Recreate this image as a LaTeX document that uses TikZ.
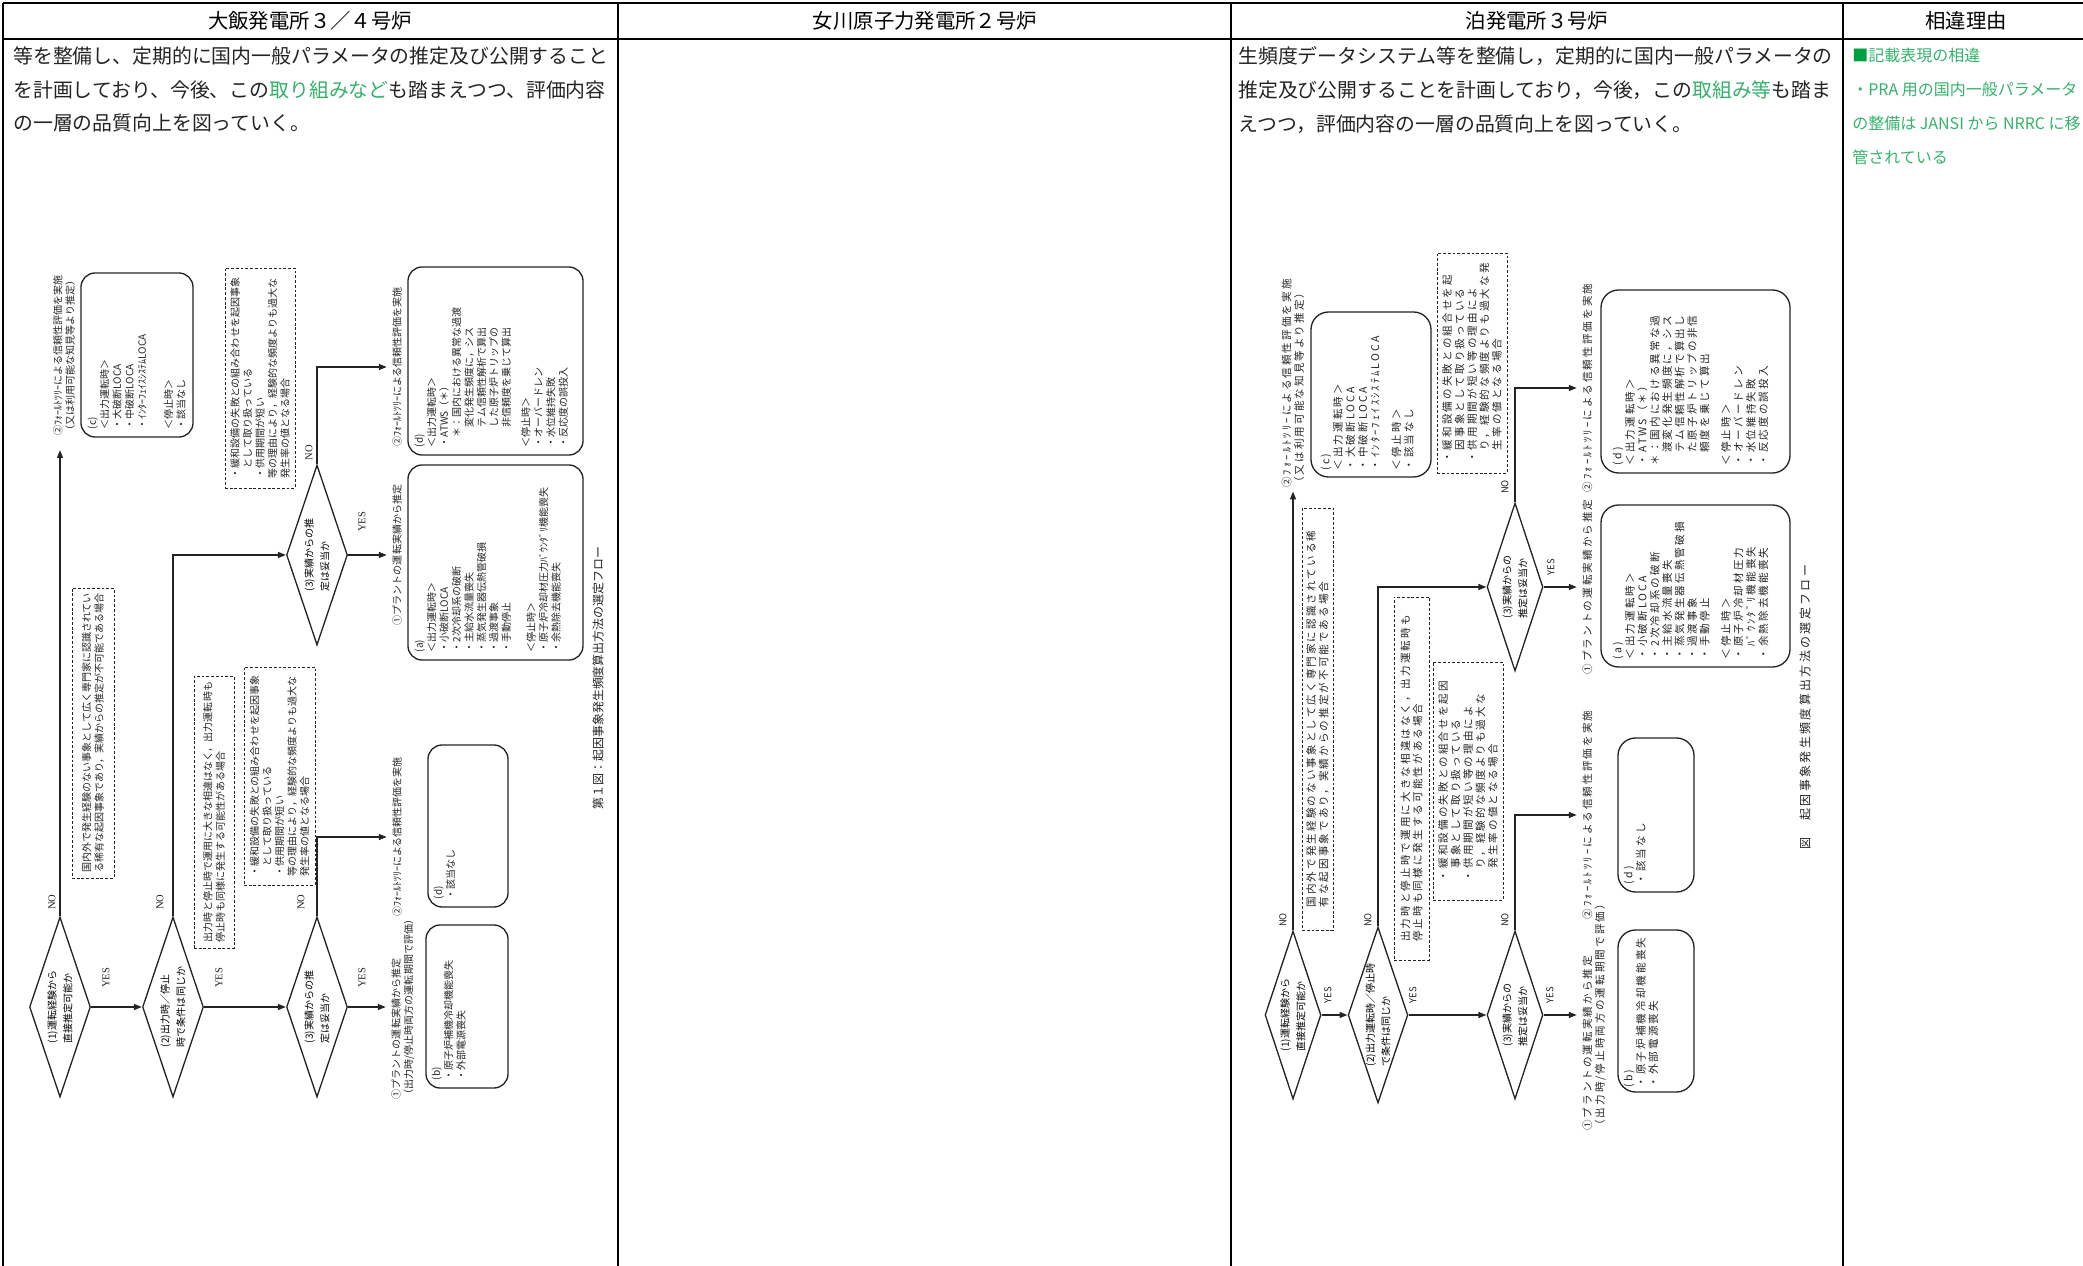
\documentclass[tikz,border=0pt]{standalone}
\usepackage{fontspec}
\usepackage{graphicx}
\setmainfont{Noto Sans CJK JP}
\newfontfamily\rjp[LetterSpace=20]{Noto Sans CJK JP}
\newfontfamily\yesfont{Liberation Serif}
\usetikzlibrary{arrows.meta,shapes.geometric,fit}
\definecolor{diffgreen}{RGB}{52,178,108}
\definecolor{markgreen}{RGB}{0,160,64}
\definecolor{ink}{RGB}{35,35,35}
\newcommand\vstack[1]{\rotatebox{90}{\shortstack[l]{#1}}}
\tikzset{
  tabline/.style={line width=1.2pt,black},
  headtext/.style={inner sep=0pt,font=\fontsize{11.6}{14}\selectfont},
  bodytext/.style={anchor=north west,align=left,inner sep=0pt,text=ink,font=\fontsize{11.3}{19.3}\selectfont},
  notetext/.style={anchor=north west,align=left,inner sep=0pt,text=diffgreen,font=\fontsize{9.1}{19.3}\selectfont},
  fline/.style={line width=0.75pt,draw=ink},
  flow/.style={fline,-{Triangle[length=4.5pt,width=3.4pt]}},
  dec/.style={diamond,fline,shape aspect=0.34,inner sep=0pt},
  rbox/.style={fline,rounded corners=8pt,inner sep=0pt},
  dbox/.style={draw=ink,line width=0.5pt,dash pattern=on 1.6pt off 1.1pt,inner sep=0pt},
  vtext/.style={rotate=90,align=left,inner sep=0pt,text=ink},
  lsz/.style={font=\fontsize{5.7}{7.1}\selectfont},
  rsz/.style={font=\rjp\fontsize{6}{7.1}\selectfont},
  yn/.style={rotate=90,inner sep=0pt,text=ink,font=\yesfont\fontsize{6}{7}\selectfont},
  ynr/.style={rotate=90,inner sep=0pt,text=ink,font=\fontsize{5.4}{7}\selectfont}
}
\begin{document}
\begin{tikzpicture}[x=0.02cm,y=-0.02cm]
\useasboundingbox (0,0) rectangle (2083,1266);
\clip (0,0) rectangle (2083,1266);
\draw[tabline] (3,3) -- (2083,3);
\draw[tabline] (3,39) -- (2083,39);
\foreach \cx in {3,618,1231,1843} \draw[tabline] (\cx,3) -- (\cx,1266);
\node[headtext] (hOhi) at (310,21) {大飯発電所３／４号炉};
\node[headtext] (hOna) at (925,21) {女川原子力発電所２号炉};
\node[headtext] (hTom) at (1537,21) {泊発電所３号炉};
\node[headtext] (hDiff) at (1966,21) {相違理由};
\node[bodytext] (txtOhi) at (13,46) {等を整備し、定期的に国内一般パラメータの推定及び公開すること\\を計画しており、今後、この{\color{diffgreen}取り組みなど}も踏まえつつ、評価内容\\の一層の品質向上を図っていく。};
\node[bodytext] (txtTom) at (1238,46) {生頻度データシステム等を整備し，定期的に国内一般パラメータの\\推定及び公開することを計画しており，今後，この{\color{diffgreen}取組み等}も踏ま\\えつつ，評価内容の一層の品質向上を図っていく。};
\node[notetext] (txtDiff) at (1852,48) {{\color{markgreen}■}記載表現の相違\\・PRA 用の国内一般パラメータ\\の整備は JANSI から NRRC に移\\管されている};

\node[dec,lsz,minimum width=1.22cm,minimum height=3.6cm] (oD1) at (60,1007) {\vstack{(1)運転経験から\\直接推定可能か}};
\node[dec,lsz,minimum width=1.22cm,minimum height=3.6cm] (oD2) at (173,1007) {\vstack{(2)出力時／停止\\時で条件は同じか}};
\node[dec,lsz,minimum width=1.22cm,minimum height=3.6cm] (oD3) at (317,1007) {\vstack{(3)実績からの推\\定は妥当か}};
\node[dec,lsz,minimum width=1.22cm,minimum height=3.6cm] (oD3u) at (317,555) {\vstack{(3)実績からの推\\定は妥当か}};
\node[vtext,lsz,anchor=west] (oLabTop) at (64,436) {②ﾌｫｰﾙﾄﾂﾘｰによる信頼性評価を実施\\（又は利用可能な知見等より推定）};
\node[vtext,lsz,anchor=north] (oLab1) at (391,1007) {①プラントの運転実績から推定\\（出力時/停止時両方の運転期間で評価）};
\node[vtext,lsz,anchor=north] (oLab2) at (392,837) {②ﾌｫｰﾙﾄﾂﾘｰによる信頼性評価を実施};
\node[vtext,lsz,anchor=north] (oLab1u) at (392,555) {①プラントの運転実績から推定};
\node[vtext,lsz,anchor=north] (oLab2u) at (392,367) {②ﾌｫｰﾙﾄﾂﾘｰによる信頼性評価を実施};
\node[vtext,font=\fontsize{6.8}{8}\selectfont] (oCap) at (598,678) {第１図：起因事象発生頻度算出方法の選定フロー};

\node[rbox,fit={(81,273) (193,437)}] (oBoxC) {};
\node[rbox,fit={(408,267) (583,455)}] (oBoxD) {};
\node[rbox,fit={(408,465) (583,660)}] (oBoxA) {};
\node[rbox,fit={(428,745) (508,907)}] (oBoxDl) {};
\node[rbox,fit={(426,925) (508,1088)}] (oBoxB) {};
\node[vtext,lsz,anchor=north west] (oTxtC) at ([shift={(7,-8)}]oBoxC.south west) {(c)\\＜出力運転時＞\\・大破断LOCA\\・中破断LOCA\\・ｲﾝﾀｰﾌｪｲｽｼｽﾃﾑLOCA\\[8pt]＜停止時＞\\・該当なし};
\node[vtext,lsz,anchor=north west] (oTxtD) at ([shift={(7,-8)}]oBoxD.south west) {(d)\\＜出力運転時＞\\・ATWS（＊）\\　＊：国内における異常な過渡\\　　変化発生頻度に，シス\\　　テム信頼性解析で算出\\　　した原子炉トリップの\\　　非信頼度を乗じて算出\\[4pt]＜停止時＞\\・オーバードレン\\・水位維持失敗\\・反応度の誤投入};
\node[vtext,lsz,anchor=north west] (oTxtA) at ([shift={(7,-8)}]oBoxA.south west) {(a)\\＜出力運転時＞\\・小破断LOCA\\・2次冷却系の破断\\・主給水流量喪失\\・蒸気発生器伝熱管破損\\・過渡事象\\・手動停止\\[7pt]＜停止時＞\\・原子炉冷却材圧力ﾊﾞｳﾝﾀﾞﾘ機能喪失\\・余熱除去機能喪失};
\node[vtext,lsz,anchor=north west] (oTxtDl) at ([shift={(6,-8)}]oBoxDl.south west) {(d)\\・該当なし};
\node[vtext,lsz,anchor=north west] (oTxtB) at ([shift={(6,-8)}]oBoxB.south west) {(b)\\・原子炉補機冷却機能喪失\\・外部電源喪失};

\node[dbox,fit={(72,588) (114,878)}] (oNoteA) {};
\node[dbox,fit={(194,676) (234,948)}] (oNoteB) {};
\node[dbox,fit={(244,667) (315,885)}] (oNoteC) {};
\node[dbox,fit={(225,268) (295,488)}] (oNoteD) {};
\node[vtext,lsz] (oNoteAtxt) at (oNoteA.center) {国内外で発生経験のない事象として広く専門家に認識されてい\\る稀有な起因事象であり，実績からの推定が不可能である場合};
\node[vtext,lsz] (oNoteBtxt) at (oNoteB.center) {出力時と停止時で運用に大きな相違はなく，出力運転時も\\停止時も同様に発生する可能性がある場合};
\node[vtext,lsz] (oNoteCtxt) at (oNoteC.center) {・緩和設備の失敗との組み合わせを起因事象\\　として取り扱っている\\・供用期間が短い\\等の理由により，経験的な頻度よりも過大な\\発生率の値となる場合};
\node[vtext,lsz] (oNoteDtxt) at (oNoteD.center) {・緩和設備の失敗との組み合わせを起因事象\\　として取り扱っている\\・供用期間が短い\\等の理由により，経験的な頻度よりも過大な\\発生率の値となる場合};

\node[yn] (oYes1) at (106,978) {YES};
\node[yn] (oYes2) at (219,978) {YES};
\node[yn] (oYes3) at (362,978) {YES};
\node[yn] (oYes4) at (362,522) {YES};
\node[yn] (oNo1) at (52,902) {NO};
\node[yn] (oNo2) at (160,902) {NO};
\node[yn] (oNo3) at (301,902) {NO};
\node[yn] (oNo4) at (309,453) {NO};

\draw[flow,shorten >=8pt] (oD1.north) -- (oD1.north |- oLabTop.west);
\draw[flow] (oD1.east) -- (oD2.west);
\draw[flow] (oD2.east) -- (oD3.west);
\draw[flow] (oD2.north) |- (oD3u.west);
\draw[flow,shorten >=3pt] (oD3.east) -- (oLab1.north);
\draw[flow,shorten >=3pt] (oD3.north) |- (oLab2.north);
\draw[flow,shorten >=3pt] (oD3u.east) -- (oLab1u.north);
\draw[flow,shorten >=3pt] (oD3u.north) |- (oLab2u.north);

\node[dec,lsz,minimum width=1.12cm,minimum height=3.36cm] (tD1) at (1293,1015) {\vstack{(1)運転経験から\\直接推定可能か}};
\node[dec,lsz,minimum width=1.12cm,minimum height=3.36cm] (tD2) at (1378,1015) {\vstack{(2)出力運転時／停止時\\で条件は同じか}};
\node[dec,lsz,minimum width=1.12cm,minimum height=3.36cm] (tD3) at (1515,1015) {\vstack{(3)実績からの\\推定は妥当か}};
\node[dec,lsz,minimum width=1.12cm,minimum height=3.36cm] (tD3u) at (1515,587) {\vstack{(3)実績からの\\推定は妥当か}};
\node[vtext,rsz,anchor=west] (tLabTop) at (1293,488) {②ﾌｫｰﾙﾄﾂﾘｰによる信頼性評価を実施\\（又は利用可能な知見等より推定）};
\node[vtext,rsz,anchor=north] (tLab1) at (1582,1015) {①プラントの運転実績から推定\\（出力時/停止時両方の運転期間で評価）};
\node[vtext,rsz,anchor=north] (tLab2) at (1582,815) {②ﾌｫｰﾙﾄﾂﾘｰによる信頼性評価を実施};
\node[vtext,rsz,anchor=north] (tLab1u) at (1582,587) {①プラントの運転実績から推定};
\node[vtext,rsz,anchor=north] (tLab2u) at (1582,388) {②ﾌｫｰﾙﾄﾂﾘｰによる信頼性評価を実施};
\node[vtext,font=\rjp\fontsize{6.8}{8}\selectfont] (tCap) at (1805,707) {図　起因事象発生頻度算出方法の選定フロー};

\node[rbox,rounded corners=10pt,fit={(1311,312) (1431,477)}] (tBoxC) {};
\node[rbox,rounded corners=10pt,fit={(1601,290) (1790,473)}] (tBoxD) {};
\node[rbox,rounded corners=10pt,fit={(1601,505) (1790,667)}] (tBoxA) {};
\node[rbox,rounded corners=10pt,fit={(1618,738) (1694,892)}] (tBoxDl) {};
\node[rbox,rounded corners=10pt,fit={(1618,930) (1694,1092)}] (tBoxB) {};
\node[vtext,rsz,anchor=north west] (tTxtC) at ([shift={(10,-7)}]tBoxC.south west) {(c)\\＜出力運転時＞\\・大破断LOCA\\・中破断LOCA\\・ｲﾝﾀｰﾌｪｲｽｼｽﾃﾑLOCA\\[5pt]＜停止時＞\\・該当なし};
\node[vtext,rsz,anchor=north west] (tTxtD) at ([shift={(12,-8)}]tBoxD.south west) {(d)\\＜出力運転時＞\\・ATWS（＊）\\＊：国内における異常な過\\　渡変化発生頻度に，シス\\　テム信頼性解析で算出し\\　た原子炉トリップの非信\\　頼度を乗じて算出\\[5pt]＜停止時＞\\・オーバードレン\\・水位維持失敗\\・反応度の誤投入};
\node[vtext,rsz,anchor=north west] (tTxtA) at ([shift={(12,-8)}]tBoxA.south west) {(a)\\＜出力運転時＞\\・小破断LOCA\\・2次冷却系の破断\\・主給水流量喪失\\・蒸気発生器伝熱管破損\\・過渡事象\\・手動停止\\[5pt]＜停止時＞\\・原子炉冷却材圧力\\　ﾊﾞｳﾝﾀﾞﾘ機能喪失\\・余熱除去機能喪失};
\node[vtext,rsz,anchor=north west] (tTxtDl) at ([shift={(6,-8)}]tBoxDl.south west) {(d)\\・該当なし};
\node[vtext,rsz,anchor=north west] (tTxtB) at ([shift={(6,-5)}]tBoxB.south west) {(b)\\・原子炉補機冷却機能喪失\\・外部電源喪失};

\node[dbox,fit={(1302,508) (1333,930)}] (tNoteA) {};
\node[dbox,fit={(1394,597) (1429,960)}] (tNoteB) {};
\node[dbox,fit={(1433,662) (1503,900)}] (tNoteC) {};
\node[dbox,fit={(1437,253) (1507,473)}] (tNoteD) {};
\node[vtext,rsz] (tNoteAtxt) at (tNoteA.center) {国内外で発生経験のない事象として広く専門家に認識されている稀\\有な起因事象であり，実績からの推定が不可能である場合};
\node[vtext,rsz] (tNoteBtxt) at (tNoteB.center) {出力時と停止時で運用に大きな相違はなく，出力運転時も\\停止時も同様に発生する可能性がある場合};
\node[vtext,rsz] (tNoteCtxt) at (tNoteC.center) {・緩和設備の失敗との組合せを起因\\　事象として取り扱っている\\・供用期間が短い等の理由によ\\　り，経験的な頻度よりも過大な\\　発生率の値となる場合};
\node[vtext,rsz] (tNoteDtxt) at (tNoteD.center) {・緩和設備の失敗との組合せを起\\　因事象として取り扱っている\\・供用期間が短い等の理由によ\\　り，経験的な頻度よりも過大な発\\　生率の値となる場合};

\node[ynr] (tYes1) at (1328,995) {YES};
\node[ynr] (tYes2) at (1413,995) {YES};
\node[ynr] (tYes3) at (1550,995) {YES};
\node[ynr] (tYes4) at (1551,567) {YES};
\node[ynr] (tNo1) at (1283,920) {NO};
\node[ynr] (tNo2) at (1368,920) {NO};
\node[ynr] (tNo3) at (1505,920) {NO};
\node[ynr] (tNo4) at (1505,487) {NO};

\draw[flow,shorten >=2pt] (tD1.north) -- (tD1.north |- tLabTop.west);
\draw[flow] (tD1.east) -- (tD2.west);
\draw[flow] (tD2.east) -- (tD3.west);
\draw[flow] (tD2.north) |- (tD3u.west);
\draw[flow,shorten >=3pt] (tD3.east) -- (tLab1.north);
\draw[flow,shorten >=3pt] (tD3.north) |- (tLab2.north);
\draw[flow,shorten >=3pt] (tD3u.east) -- (tLab1u.north);
\draw[flow,shorten >=3pt] (tD3u.north) |- (tLab2u.north);
\end{tikzpicture}
\end{document}
